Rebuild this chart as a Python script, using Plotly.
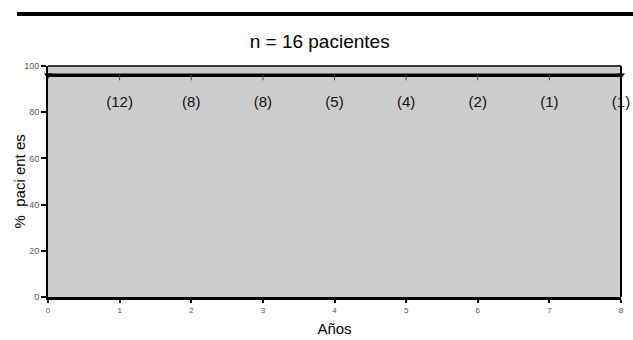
import plotly.graph_objects as go

# Data
years = [0, 1, 2, 3, 4, 5, 6, 7, 8]
survival = [96, 96, 96, 96, 96, 96, 96, 96, 96]
at_risk_x = [1, 2, 3, 4, 5, 6, 7, 8]
at_risk_labels = ["(12)", "(8)", "(8)", "(5)", "(4)", "(2)", "(1)", "(1)"]
at_risk_y = [84, 84, 84, 84, 84, 84, 84, 84]
censor_x = [1, 2, 3, 4, 5, 6, 7]
censor_y = [95, 95, 95, 95, 95, 95, 95]
end_x = [0, 8]
end_y = [96, 96]

fig = go.Figure()
fig.add_trace(go.Scatter(x=years, y=survival, mode="lines",
                         line=dict(color="black", width=3.5, shape="hv"),
                         hoverinfo="skip", showlegend=False, cliponaxis=False))
fig.add_trace(go.Scatter(x=censor_x, y=censor_y, mode="markers",
                         marker=dict(symbol="line-ns", size=4, line=dict(color="#444", width=1)),
                         showlegend=False))
fig.add_trace(go.Scatter(x=end_x, y=end_y, mode="markers", cliponaxis=False,
                         marker=dict(symbol="triangle-down", size=7, color="black"),
                         showlegend=False))
fig.add_trace(go.Scatter(x=at_risk_x, y=at_risk_y, mode="text", text=at_risk_labels,
                         cliponaxis=False,
                         textfont=dict(family="Liberation Sans, Arial", size=15, color="#111"),
                         textposition="middle center", showlegend=False))

fig.update_layout(
    width=633, height=340,
    margin=dict(l=48, r=12, t=66, b=42.5),
    paper_bgcolor="white",
    plot_bgcolor="#cccccc",
    title=dict(text="n = 16 pacientes", x=0.505, xanchor="center", y=0.877, yanchor="middle",
               font=dict(family="Liberation Sans, Arial", size=19, color="black")),
    xaxis=dict(range=[0, 8], tickvals=years, ticktext=[str(v) for v in years],
               automargin=False,
               showgrid=False, zeroline=False, showline=True, linecolor="black", linewidth=3,
               ticks="outside", ticklen=3, tickwidth=2, tickcolor="black",
               tickfont=dict(family="Liberation Sans Narrow, Liberation Sans, Arial", size=8, color="#555"),
               title=dict(text="Años", font=dict(family="Liberation Sans, Arial", size=15, color="black"),
                          standoff=10)),
    yaxis=dict(range=[0, 100], tickvals=[0, 20, 40, 60, 80, 100],
               automargin=False,
               showgrid=False, zeroline=False, showline=True, linecolor="black", linewidth=2,
               ticks="outside", ticklen=5, tickwidth=2, tickcolor="black",
               tickfont=dict(family="Liberation Sans Narrow, Liberation Sans, Arial", size=9, color="#555")),
    annotations=[
        dict(text="%  paci ent es", xref="paper", yref="paper", x=-0.049, y=0.5,
             xanchor="center", yanchor="middle", textangle=-90, showarrow=False,
             font=dict(family="Liberation Sans, Arial", size=15, color="black")),
    ],
    shapes=[
        dict(type="line", xref="paper", yref="paper", x0=0, x1=1, y0=1, y1=1,
             line=dict(color="black", width=1.5)),
        dict(type="line", xref="paper", yref="paper", x0=1, x1=1, y0=0, y1=1,
             line=dict(color="black", width=2)),
        dict(type="line", xref="paper", yref="paper", x0=-0.054, x1=1.03, y0=1.2246, y1=1.2246,
             line=dict(color="black", width=4)),
    ],
)

fig.write_html("out.html", config={"displayModeBar": False},
               post_script="document.body.style.margin='0';document.body.style.padding='0';")
